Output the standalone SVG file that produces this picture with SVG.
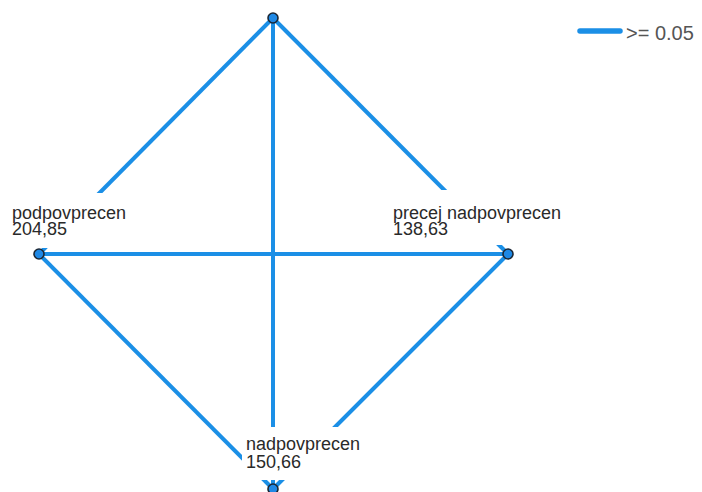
<svg xmlns="http://www.w3.org/2000/svg" width="702" height="492" viewBox="0 0 702 492">
<style>
.edge{stroke:#1b8fe6;stroke-width:4;fill:none}
.node{fill:#1e88e5;stroke:#1b2735;stroke-width:1.6}
.lbl{font-family:"Liberation Sans",Arial,sans-serif;font-size:18px;fill:#2a2a2a}
.bg{fill:#ffffff}
.leg{font-family:"Liberation Sans",Arial,sans-serif;font-size:20px;fill:#555555}
</style>
<rect width="702" height="492" fill="#ffffff"/>
<g id="connectors">
<line class="edge" x1="273" y1="18" x2="39" y2="254"/>
<line class="edge" x1="273" y1="18" x2="508" y2="254"/>
<line class="edge" x1="273" y1="18" x2="273" y2="489"/>
<line class="edge" x1="39" y1="254" x2="508" y2="254"/>
<line class="edge" x1="39" y1="254" x2="273" y2="489"/>
<line class="edge" x1="508" y1="254" x2="273" y2="489"/>
</g>
<g id="node-top">
<circle class="node" cx="273" cy="18" r="5"/>
</g>
<g id="node-podpovprecen">
<rect class="bg" x="8" y="193" width="134" height="55"/>
<text class="lbl" x="12" y="219">podpovprecen</text>
<text class="lbl" x="12" y="235">204,85</text>
<circle class="node" cx="39" cy="254" r="5"/>
</g>
<g id="node-precej-nadpovprecen">
<rect class="bg" x="388" y="190" width="184" height="55"/>
<text class="lbl" x="393" y="219">precej nadpovprecen</text>
<text class="lbl" x="393" y="235">138,63</text>
<circle class="node" cx="508" cy="254" r="5"/>
</g>
<g id="node-nadpovprecen">
<rect class="bg" x="242" y="427" width="122" height="53"/>
<text class="lbl" x="246" y="450">nadpovprecen</text>
<text class="lbl" x="246" y="468">150,66</text>
<circle class="node" cx="273" cy="489" r="5"/>
</g>
<g id="legend">
<line x1="580" y1="31" x2="620" y2="31" stroke="#1b8fe6" stroke-width="5.5" stroke-linecap="round"/>
<text class="leg" x="626" y="40">&gt;= 0.05</text>
</g>
</svg>
